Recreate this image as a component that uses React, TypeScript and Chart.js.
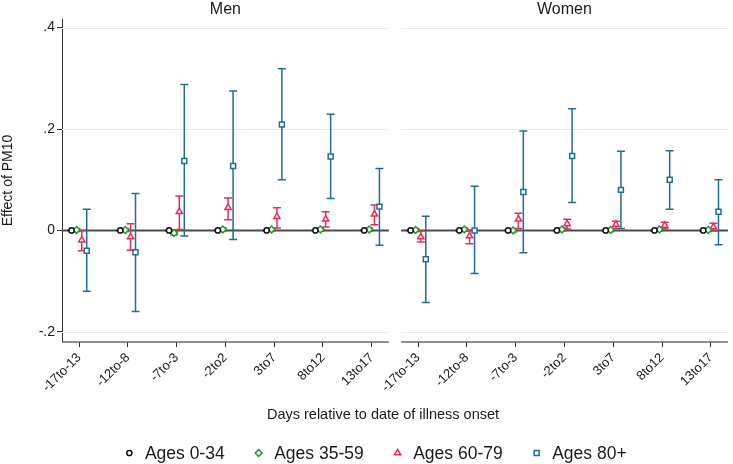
import React, { useEffect, useRef } from 'react';
import { Chart, registerables } from 'chart.js';

Chart.register(...registerables);

// ---------- data ----------
const categories = ['-17to-13', '-12to-8', '-7to-3', '-2to2', '3to7', '8to12', '13to17'];
const panelTitles = ['Men', 'Women'];
const seriesLabels = ['Ages 0-34', 'Ages 35-59', 'Ages 60-79', 'Ages 80+'];
const yTickValues = [-0.2, 0, 0.2, 0.4];
const xTitle = 'Days relative to date of illness onset';
const yTitle = 'Effect of PM10';

// Men
const menA0Est = [0, 0, 0, 0, 0, 0, 0];
const menA0Lo = [0, 0, 0, 0, 0, 0, 0];
const menA0Hi = [0, 0, 0, 0, 0, 0, 0];
const menA35Est = [0.001, 0.001, -0.005, 0.002, 0.002, 0.002, 0.002];
const menA35Lo = [-0.002, -0.002, -0.009, -0.001, -0.001, -0.001, -0.001];
const menA35Hi = [0.004, 0.004, -0.001, 0.005, 0.005, 0.005, 0.005];
const menA60Est = [-0.019, -0.013, 0.037, 0.045, 0.027, 0.022, 0.032];
const menA60Lo = [-0.04, -0.039, 0.002, 0.021, 0.005, 0.007, 0.011];
const menA60Hi = [0.0, 0.013, 0.068, 0.064, 0.045, 0.037, 0.05];
const menA80Est = [-0.04, -0.043, 0.137, 0.127, 0.209, 0.146, 0.047];
const menA80Lo = [-0.12, -0.16, -0.011, -0.018, 0.1, 0.063, -0.029];
const menA80Hi = [0.042, 0.073, 0.288, 0.275, 0.319, 0.229, 0.122];

// Women
const womenA0Est = [0, 0, 0, 0, 0, 0, 0];
const womenA0Lo = [0, 0, 0, 0, 0, 0, 0];
const womenA0Hi = [0, 0, 0, 0, 0, 0, 0];
const womenA35Est = [0.001, 0.002, 0.0, 0.002, 0.001, 0.002, 0.001];
const womenA35Lo = [-0.002, -0.001, -0.003, -0.001, -0.002, -0.001, -0.002];
const womenA35Hi = [0.004, 0.005, 0.003, 0.005, 0.004, 0.005, 0.004];
const womenA60Est = [-0.013, -0.011, 0.022, 0.013, 0.012, 0.01, 0.007];
const womenA60Lo = [-0.023, -0.026, 0.004, 0.003, 0.004, 0.003, -0.001];
const womenA60Hi = [-0.001, 0.0, 0.034, 0.022, 0.018, 0.016, 0.014];
const womenA80Est = [-0.057, 0.0, 0.076, 0.147, 0.08, 0.1, 0.037];
const womenA80Lo = [-0.142, -0.085, -0.044, 0.055, 0.004, 0.042, -0.028];
const womenA80Hi = [0.028, 0.087, 0.196, 0.24, 0.156, 0.157, 0.1];

// ---------- styling / layout ----------
const FONT = '"Liberation Sans", Arial, Helvetica, sans-serif';
const TEXT = '#1a1a1a';
const colors = ['#111111', '#1f9c2c', '#f0285a', '#1f6e97'];
const pointStyles = ['circle', 'rectRot', 'triangle', 'rect'];
const pointRadii = [2.6, 3.4, 3.6, 3.5];
const seriesOffsets = [-0.155, -0.053, 0.055, 0.157];
const panelStart = [0, 6.95];
const panelBounds = [
  [-0.35, 6.35],
  [6.6, 13.3],
];
const X_MIN = -0.35;
const X_MAX = 13.3;

const est = [
  [menA0Est, womenA0Est],
  [menA35Est, womenA35Est],
  [menA60Est, womenA60Est],
  [menA80Est, womenA80Est],
];
const lo = [
  [menA0Lo, womenA0Lo],
  [menA35Lo, womenA35Lo],
  [menA60Lo, womenA60Lo],
  [menA80Lo, womenA80Lo],
];
const hi = [
  [menA0Hi, womenA0Hi],
  [menA35Hi, womenA35Hi],
  [menA60Hi, womenA60Hi],
  [menA80Hi, womenA80Hi],
];

const xTickPositions: number[] = [];
panelStart.forEach((p) => categories.forEach((_, ci) => xTickPositions.push(p + ci)));

function drawMarker(ctx: CanvasRenderingContext2D, style: string, r: number, x: number, y: number) {
  ctx.beginPath();
  if (style === 'circle') {
    ctx.arc(x, y, r, 0, Math.PI * 2);
  } else if (style === 'rect') {
    const s = Math.SQRT1_2 * r;
    ctx.rect(x - s, y - s, 2 * s, 2 * s);
  } else if (style === 'rectRot') {
    ctx.moveTo(x, y - r);
    ctx.lineTo(x + r, y);
    ctx.lineTo(x, y + r);
    ctx.lineTo(x - r, y);
    ctx.closePath();
  } else if (style === 'triangle') {
    const h = r * 1.5;
    const w = r * 0.866 * 2;
    ctx.moveTo(x, y - r);
    ctx.lineTo(x + w / 2, y - r + h);
    ctx.lineTo(x - w / 2, y - r + h);
    ctx.closePath();
  }
  ctx.fill();
  ctx.stroke();
}

const decorPlugin = {
  id: 'panelDecor',
  beforeDatasetsDraw(chart: any) {
    const { ctx, chartArea, scales } = chart;
    const x = scales.x;
    const y = scales.y;
    ctx.save();
    panelBounds.forEach(([a, b]) => {
      const l = x.getPixelForValue(a);
      const r = x.getPixelForValue(b);
      ctx.strokeStyle = '#e8e8e8';
      ctx.lineWidth = 1;
      yTickValues.forEach((v) => {
        const py = Math.round(y.getPixelForValue(v)) + 0.5;
        ctx.beginPath();
        ctx.moveTo(l, py);
        ctx.lineTo(r, py);
        ctx.stroke();
      });
      ctx.strokeStyle = '#6a6a6a';
      ctx.lineWidth = 1.5;
      ctx.beginPath();
      ctx.moveTo(l, chartArea.bottom);
      ctx.lineTo(r, chartArea.bottom);
      ctx.stroke();
      ctx.strokeStyle = '#4a4a4a';
      ctx.lineWidth = 2;
      const z = y.getPixelForValue(0);
      ctx.beginPath();
      ctx.moveTo(l, z);
      ctx.lineTo(r, z);
      ctx.stroke();
    });
    // error bars
    chart.data.datasets.forEach((ds: any, di: number) => {
      ctx.strokeStyle = ds.borderColor;
      ctx.lineWidth = 1.5;
      ds.data.forEach((pt: any, i: number) => {
        const px = x.getPixelForValue(pt.x);
        const pLo = y.getPixelForValue(ds.errLo[i]);
        const pHi = y.getPixelForValue(ds.errHi[i]);
        const cap = 4;
        ctx.beginPath();
        ctx.moveTo(px, pLo);
        ctx.lineTo(px, pHi);
        ctx.moveTo(px - cap, pLo);
        ctx.lineTo(px + cap, pLo);
        ctx.moveTo(px - cap, pHi);
        ctx.lineTo(px + cap, pHi);
        ctx.stroke();
      });
    });
    ctx.restore();
  },
  afterDraw(chart: any) {
    const { ctx, chartArea, scales } = chart;
    const x = scales.x;
    ctx.save();
    ctx.fillStyle = TEXT;
    // panel titles
    ctx.font = `16px ${FONT}`;
    ctx.textAlign = 'center';
    ctx.textBaseline = 'alphabetic';
    panelBounds.forEach(([a, b], pi) => {
      const cx = (x.getPixelForValue(a) + x.getPixelForValue(b)) / 2;
      ctx.fillText(panelTitles[pi], cx, 13.5);
    });
    // x title
    ctx.font = `14.5px ${FONT}`;
    ctx.textBaseline = 'middle';
    ctx.fillText(xTitle, 383, 415);
    // legend
    ctx.font = `17.5px ${FONT}`;
    ctx.textAlign = 'left';
    const gapMarkerText = 15.5;
    const gapTextMarker = 34;
    const widths = seriesLabels.map((t) => ctx.measureText(t).width);
    let total = 3;
    widths.forEach((w, i) => {
      total += gapMarkerText + w + (i < widths.length - 1 ? gapTextMarker : 0);
    });
    let mx = 376.5 - total / 2 + 3;
    const ly = 453;
    seriesLabels.forEach((t, i) => {
      ctx.strokeStyle = colors[i];
      ctx.fillStyle = '#ffffff';
      ctx.lineWidth = 1.5;
      drawMarker(ctx, pointStyles[i], pointRadii[i], mx, ly);
      ctx.fillStyle = TEXT;
      ctx.fillText(t, mx + gapMarkerText, ly + 1);
      mx += gapMarkerText + widths[i] + gapTextMarker;
    });
    ctx.restore();
  },
};

export default function App() {
  const canvasRef = useRef<HTMLCanvasElement | null>(null);

  useEffect(() => {
    if (!canvasRef.current) return;
    Chart.defaults.font.family = FONT;
    Chart.defaults.color = TEXT;

    const datasets = seriesLabels.map((label, s) => {
      const data: { x: number; y: number }[] = [];
      const errLo: number[] = [];
      const errHi: number[] = [];
      panelStart.forEach((p, pi) => {
        categories.forEach((_, ci) => {
          data.push({ x: p + ci + seriesOffsets[s], y: est[s][pi][ci] });
          errLo.push(lo[s][pi][ci]);
          errHi.push(hi[s][pi][ci]);
        });
      });
      return {
        label,
        data,
        errLo,
        errHi,
        showLine: false,
        pointStyle: pointStyles[s],
        pointRadius: pointRadii[s],
        pointHoverRadius: pointRadii[s],
        borderColor: colors[s],
        backgroundColor: '#ffffff',
        pointBorderWidth: 1.5,
        borderWidth: 1.5,
      } as any;
    });

    const chart = new Chart(canvasRef.current, {
      type: 'scatter',
      data: { datasets },
      options: {
        animation: false,
        responsive: false,
        layout: { padding: { left: 0, right: 1, top: 19, bottom: 0 } },
        plugins: {
          legend: { display: false },
          tooltip: { enabled: false },
          title: { display: false },
        },
        scales: {
          x: {
            type: 'linear',
            min: X_MIN,
            max: X_MAX,
            afterBuildTicks: (scale: any) => {
              scale.ticks = xTickPositions.map((v) => ({ value: v }));
            },
            afterFit: (scale: any) => {
              scale.height = 122;
            },
            border: { display: false },
            grid: {
              drawOnChartArea: false,
              drawTicks: true,
              tickLength: 5,
              color: '#333333',
              lineWidth: 1,
            },
            ticks: {
              autoSkip: false,
              maxRotation: 45,
              minRotation: 45,
              padding: 3,
              color: TEXT,
              font: { size: 13, family: FONT },
              callback: (_v: any, index: number) => categories[index % categories.length],
            },
          },
          y: {
            type: 'linear',
            min: -0.22,
            max: 0.417,
            afterBuildTicks: (scale: any) => {
              scale.ticks = yTickValues.map((v) => ({ value: v }));
            },
            afterFit: (scale: any) => {
              scale.width = 62;
            },
            border: { display: true, color: '#333333', width: 1 },
            grid: {
              drawOnChartArea: false,
              drawTicks: true,
              tickLength: 5,
              color: '#333333',
            },
            title: {
              display: true,
              text: yTitle,
              color: TEXT,
              font: { size: 14, family: FONT },
              padding: { top: 0, bottom: 0 },
            },
            ticks: {
              padding: 2,
              color: TEXT,
              font: { size: 14, family: FONT },
              callback: (v: any) => {
                const n = Number(v);
                if (Math.abs(n) < 1e-9) return '0';
                return (n < 0 ? '-' : '') + '.' + Math.round(Math.abs(n) * 10);
              },
            },
          },
        },
      } as any,
      plugins: [decorPlugin],
    });
    return () => chart.destroy();
  }, []);

  return (
    <div style={{ position: 'absolute', left: 0, top: 0, width: 733, height: 464, background: '#ffffff' }}>
      <canvas ref={canvasRef} width={733} height={464} style={{ display: 'block' }} />
    </div>
  );
}
